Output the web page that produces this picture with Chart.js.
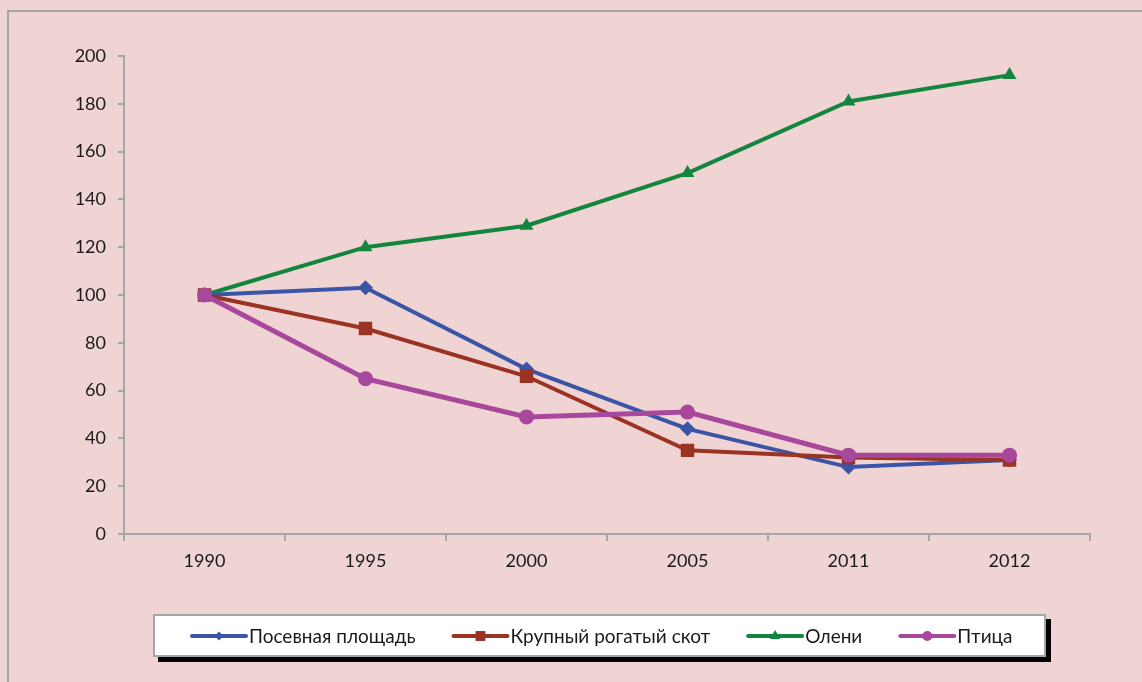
<!DOCTYPE html>
<html>
<head>
<meta charset="utf-8">
<script src="https://cdn.jsdelivr.net/npm/chart.js@4/dist/chart.umd.min.js"></script>
<style>
  html, body { margin: 0; padding: 0; background: #f0d4d4; }
  canvas { display: block; }
</style>
</head>
<body>
<canvas id="chart" width="1142" height="682"></canvas>
<script>
// data
const years = ["1990", "1995", "2000", "2005", "2011", "2012"];
const sownArea = [100, 103, 69, 44, 28, 31];
const cattle = [100, 86, 66, 35, 32, 31];
const deer = [100, 120, 129, 151, 181, 192];
const poultry = [100, 65, 49, 51, 33, 33];
const seriesNames = ["Посевная площадь", "Крупный рогатый скот", "Олени", "Птица"];
const yMin = 0, yMax = 200, yStep = 20;

const colors = ["#3a55a5", "#9a3322", "#12853f", "#a8489d"];
const grey = "#a6a6a6";
const fontFamily = "Lato, 'Open Sans', sans-serif";

// background + frame
const backdrop = {
  id: "backdrop",
  beforeDraw(chart) {
    const ctx = chart.ctx;
    ctx.save();
    ctx.fillStyle = "#f0d4d4";
    ctx.fillRect(0, 0, chart.width, chart.height);
    ctx.strokeStyle = grey;
    ctx.lineWidth = 2;
    ctx.beginPath();
    ctx.moveTo(8, chart.height);
    ctx.lineTo(8, 11);
    ctx.lineTo(chart.width, 11);
    ctx.stroke();
    ctx.restore();
  },
};

// legend box like the original
const boxLegend = {
  id: "boxLegend",
  afterDraw(chart) {
    const ctx = chart.ctx;
    ctx.save();
    ctx.fillStyle = "#000";
    ctx.fillRect(158, 619, 893, 43);
    ctx.fillStyle = "#fff";
    ctx.fillRect(153, 614, 893, 43);
    ctx.strokeStyle = grey;
    ctx.lineWidth = 2;
    ctx.strokeRect(154, 615, 891, 41);

    ctx.font = "19px " + fontFamily;
    ctx.textBaseline = "middle";
    let x = 192;
    const y = 636;
    const sizes = [4.5, 7, 6, 5];
    chart.data.datasets.slice().sort((a, b) => a.idx - b.idx).forEach((ds) => {
      ctx.strokeStyle = ds.borderColor;
      ctx.lineWidth = 4;
      ctx.lineCap = "round";
      ctx.beginPath();
      ctx.moveTo(x, y);
      ctx.lineTo(x + 54, y);
      ctx.stroke();
      ctx.fillStyle = ds.borderColor;
      Chart.helpers.drawPoint(ctx, { pointStyle: ds.pointStyle, radius: sizes[ds.idx], rotation: 0 }, x + 27, y);
      const w = ctx.measureText(ds.label).width;
      ctx.fillStyle = "#1a1a1a";
      ctx.fillText(ds.label, x + 57, y + 1);
      x += 57 + w + 38;
    });
    ctx.restore();
  },
};

function series(idx, values, style, radius, width, order) {
  return {
    idx: idx,
    label: seriesNames[idx],
    data: values,
    borderColor: colors[idx],
    backgroundColor: colors[idx],
    borderWidth: width,
    pointStyle: style,
    pointRadius: radius,
    pointBorderWidth: 0,
    tension: 0,
    fill: false,
    order: order,
  };
}

new Chart(document.getElementById("chart").getContext("2d"), {
  type: "line",
  data: {
    labels: years,
    datasets: [
      series(0, sownArea, "rectRot", 7.5, 4, 3),
      series(1, cattle, "rect", 9.5, 4, 2),
      series(2, deer, "triangle", 8, 4, 4),
      series(3, poultry, "circle", 7.5, 5, 1),
    ],
  },
  options: {
    responsive: false,
    animation: false,
    layout: { padding: { left: 0, top: 56, right: 52, bottom: 0 } },
    plugins: { legend: { display: false }, tooltip: { enabled: false } },
    scales: {
      x: {
        offset: true,
        grid: { offset: true, drawOnChartArea: false, color: grey, tickLength: 7, lineWidth: 2 },
        border: { color: grey, width: 2 },
        ticks: { color: "#1a1a1a", font: { family: fontFamily, size: 18 }, padding: 9, maxRotation: 0 },
        afterFit(scale) { scale.height = 148; },
      },
      y: {
        min: yMin,
        max: yMax,
        ticks: { stepSize: yStep, color: "#1a1a1a", font: { family: fontFamily, size: 18 }, padding: 12 },
        grid: { drawOnChartArea: false, color: grey, tickLength: 6, lineWidth: 2 },
        border: { color: grey, width: 2 },
        afterFit(scale) { scale.width = 124; },
      },
    },
  },
  plugins: [backdrop, boxLegend],
});
</script>
</body>
</html>
